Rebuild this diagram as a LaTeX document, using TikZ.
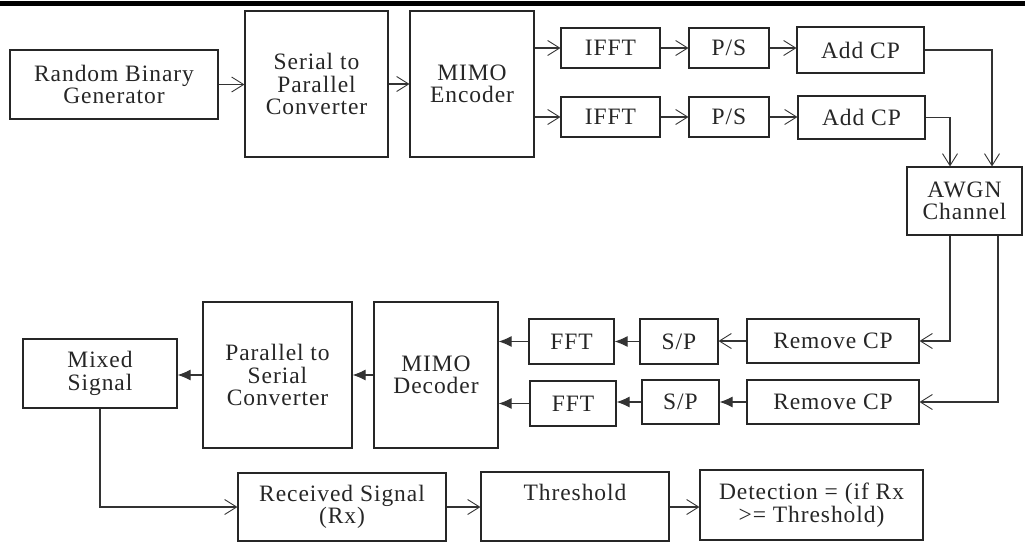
\documentclass[tikz,border=0pt]{standalone}
\usepackage{fontspec}
\setmainfont[LetterSpace=4]{Liberation Serif}
\usetikzlibrary{arrows.meta}
\begin{document}
\begin{tikzpicture}[x=1pt,y=-1pt,
  box/.style={draw=black!85, line width=1.1pt, align=center, inner sep=0pt,
    font=\fontsize{23.5}{22.5}\selectfont, text=black!85},
  conn/.style={draw=black!80, line width=1.1pt},
  openarr/.style={conn, -{Straight Barb[length=12pt,width=15pt,line width=0.9pt]}},
  fillarr/.style={conn, -{Latex[length=13pt,width=11pt]}}]
\useasboundingbox (0,0) rectangle (1025,544);
\fill[black] (0,0.5) rectangle (1025,5.5);
% transmitter
\node[box, minimum width=208, minimum height=69] (rbg) at (114,84.5) {Random Binary\\Generator};
\node[box, minimum width=143, minimum height=146] (s2p) at (316.5,84) {Serial to\\Parallel\\Converter};
\node[box, minimum width=124, minimum height=146] (menc) at (472,84) {MIMO\\Encoder};
\node[box, minimum width=99, minimum height=40] (ifft1) at (610.5,48) {IFFT};
\node[box, minimum width=80, minimum height=40] (ps1) at (729,48) {P/S};
\node[box, minimum width=127, minimum height=46] (acp1) at (860.5,50) {Add CP};
\node[box, minimum width=99, minimum height=40] (ifft2) at (610.5,117) {IFFT};
\node[box, minimum width=80, minimum height=40] (ps2) at (729,117) {P/S};
\node[box, minimum width=127, minimum height=43] (acp2) at (861.5,117.5) {Add CP};
\node[box, minimum width=115, minimum height=68] (awgn) at (964.5,201) {AWGN\\Channel};
% receiver
\node[box, minimum width=172, minimum height=44] (rcp1) at (833,341) {Remove CP};
\node[box, minimum width=172, minimum height=44] (rcp2) at (833,402) {Remove CP};
\node[box, minimum width=78, minimum height=45] (sp1) at (679,341.5) {S/P};
\node[box, minimum width=77, minimum height=44] (sp2) at (680.5,402) {S/P};
\node[box, minimum width=85, minimum height=45] (fft1) at (571.5,341.5) {FFT};
\node[box, minimum width=86, minimum height=45] (fft2) at (573,403.5) {FFT};
\node[box, minimum width=124, minimum height=146] (mdec) at (436,375) {MIMO\\Decoder};
\node[box, minimum width=149, minimum height=146] (p2s) at (277.5,375) {Parallel to\\Serial\\Converter};
\node[box, minimum width=154, minimum height=69] (mixed) at (100,373.5) {Mixed\\Signal};
\node[box, minimum width=208, minimum height=68] (rx) at (342,507) {Received Signal\\(Rx)};
\node[box, minimum width=188, minimum height=69, text depth=29pt] (thr) at (575,506.5) {Threshold};
\node[box, minimum width=223, minimum height=70] (det) at (811.5,505) {Detection = (if Rx\\>= Threshold)};
% connectors (transmitter)
\draw[openarr] (rbg.east) -- (rbg.east -| s2p.west);
\draw[openarr] (s2p.east) -- (s2p.east -| menc.west);
\draw[openarr] (menc.east |- ifft1.west) -- (ifft1.west);
\draw[openarr] (menc.east |- ifft2.west) -- (ifft2.west);
\draw[openarr] (ifft1.east) -- (ps1.west);
\draw[openarr] (ifft2.east) -- (ps2.west);
\draw[openarr] (ps1.east) -- (ps1.east -| acp1.west);
\draw[openarr] (ps2.east) -- (ps2.east -| acp2.west);
\draw[openarr] (acp1.east) -| ([xshift=27.5pt]awgn.north);
\draw[openarr] (acp2.east) -| ([xshift=-14.5pt]awgn.north);
% connectors (receiver)
\draw[openarr] ([xshift=-14.5pt]awgn.south) |- (rcp1.east);
\draw[openarr] ([xshift=33.5pt]awgn.south) |- (rcp2.east);
\draw[openarr] (rcp1.west) -- (rcp1.west -| sp1.east);
\draw[fillarr] (rcp2.west) -- (rcp2.west -| sp2.east);
\draw[fillarr] (sp1.west) -- (sp1.west -| fft1.east);
\draw[fillarr] (sp2.west) -- (sp2.west -| fft2.east);
\draw[fillarr] (fft1.west) -- (fft1.west -| mdec.east);
\draw[fillarr] (fft2.west) -- (fft2.west -| mdec.east);
\draw[fillarr] (mdec.west) -- (mdec.west -| p2s.east);
\draw[fillarr] (p2s.west) -- (p2s.west -| mixed.east);
\draw[openarr] (mixed.south) |- (rx.west);
\draw[openarr] (rx.east) -- (rx.east -| thr.west);
\draw[openarr] (thr.east |- rx.east) -- (rx.east -| det.west);
\end{tikzpicture}
\end{document}
